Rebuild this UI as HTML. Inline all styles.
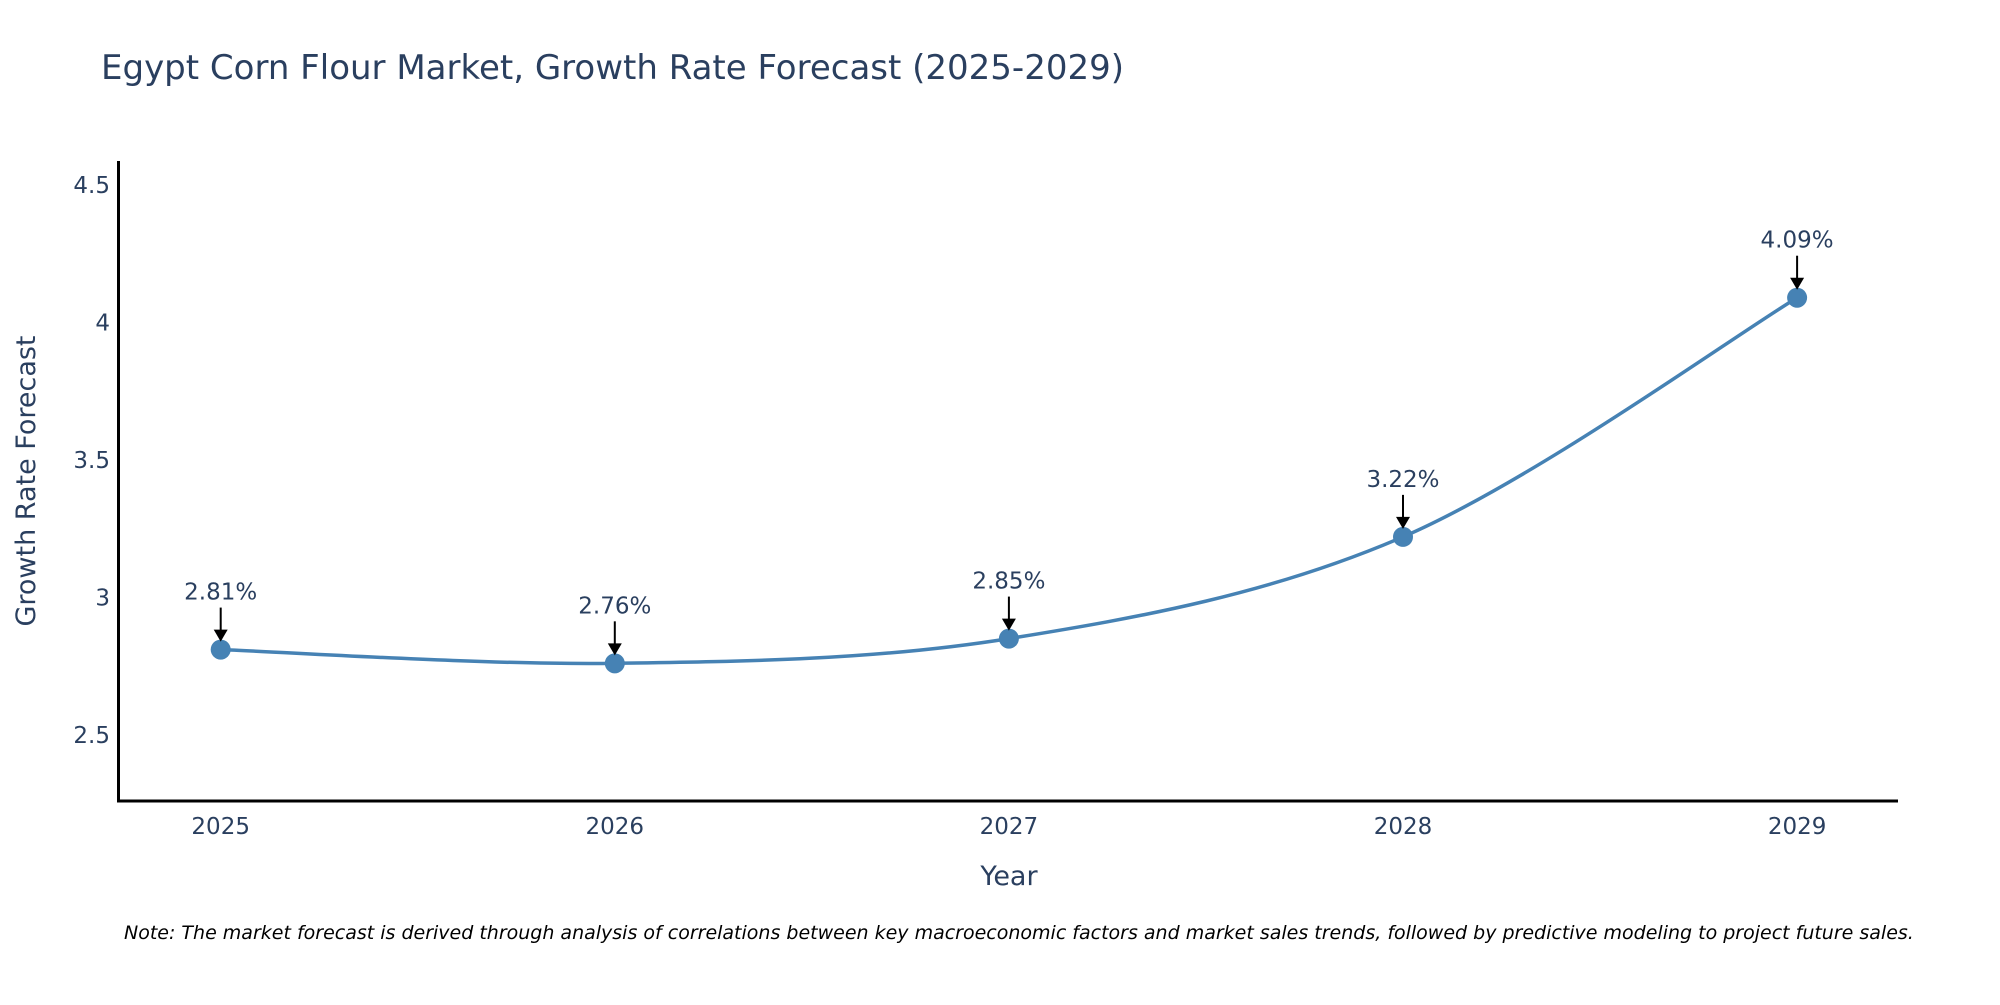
<!DOCTYPE html>
<html><head><meta charset="utf-8"><style>
body{margin:0;background:#fff;}
svg text{font-family:"DejaVu Sans","Liberation Sans",sans-serif;fill:#2a3f5f;}
</style></head><body>
<svg id="chart" width="2000" height="1000" xmlns="http://www.w3.org/2000/svg">
<text x="101" y="79" font-size="34">Egypt Corn Flour Market, Growth Rate Forecast (2025-2029)</text>
<g id="yticks"></g><g id="xticks"></g>
<line x1="118.5" y1="161" x2="118.5" y2="802" stroke="#000" stroke-width="3"/>
<line x1="117" y1="801" x2="1898" y2="801" stroke="#000" stroke-width="3"/>
<path id="line" fill="none" stroke="#4682b4" stroke-width="3.5"/>
<g id="marks"></g>
<text x="1009" y="885" font-size="27" text-anchor="middle">Year</text>
<text transform="translate(35,481) rotate(-90)" font-size="27" text-anchor="middle">Growth Rate Forecast</text>
<text x="124" y="939" font-size="19" font-style="italic" style="fill:#000">Note: The market forecast is derived through analysis of correlations between key macroeconomic factors and market sales trends, followed by predictive modeling to project future sales.</text>
</svg>
<script>
const years=[2025,2026,2027,2028,2029];
const values=[2.81,2.76,2.85,3.22,4.09];
const yTicks=[2.5,3,3.5,4,4.5];
const yTickLabels=["2.5","3","3.5","4","4.5"];
const NS="http://www.w3.org/2000/svg";
const xs=y=>220.7+(y-2025)*394.1;
const ys=v=>185-(v-4.5)*274.9;
function mk(t,a,p){const e=document.createElementNS(NS,t);for(const k in a)e.setAttribute(k,a[k]);p.appendChild(e);return e;}
const yt=document.getElementById('yticks');
yTicks.forEach((v,i)=>{const t=mk('text',{x:110,y:ys(v)+8,'font-size':23,'text-anchor':'end'},yt);

t.textContent=yTickLabels[i];});
const xt=document.getElementById('xticks');
years.forEach(y=>{const t=mk('text',{x:xs(y),y:834,'font-size':23,'text-anchor':'middle'},xt);

t.textContent=String(y);});
const P=years.map((y,i)=>[xs(y),ys(values[i])]);
let d=`M${P[0][0]},${P[0][1]}`;
for(let i=0;i<P.length-1;i++){const p0=P[Math.max(0,i-1)],p1=P[i],p2=P[i+1],p3=P[Math.min(P.length-1,i+2)];
const c1=[p1[0]+(p2[0]-p0[0])/6,p1[1]+(p2[1]-p0[1])/6],c2=[p2[0]-(p3[0]-p1[0])/6,p2[1]-(p3[1]-p1[1])/6];
d+=` C${c1[0]},${c1[1]} ${c2[0]},${c2[1]} ${p2[0]},${p2[1]}`;}
document.getElementById('line').setAttribute('d',d);
const m=document.getElementById('marks');
P.forEach((p,i)=>{
const c=mk('circle',{cx:p[0],cy:p[1],r:10,fill:'#4682b4'},m);


const l=mk('line',{x1:p[0],y1:p[1]-42,x2:p[0],y2:p[1]-18,stroke:'#000','stroke-width':2},m);


const h=mk('path',{d:`M${p[0]-7},${p[1]-20} L${p[0]+7},${p[1]-20} L${p[0]},${p[1]-8} Z`,fill:'#000'},m);


const t=mk('text',{x:p[0],y:p[1]-50,'font-size':23,'text-anchor':'middle'},m);


t.textContent=values[i].toFixed(2)+'%';});
</script>
</body></html>
